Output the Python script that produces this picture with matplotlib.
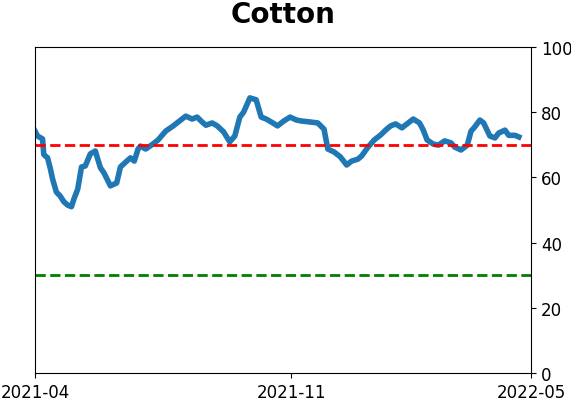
import pandas as pd
import matplotlib.pyplot as plt

TITLE = "Cotton"

dates = [
    "2021-04-01", "2021-04-03", "2021-04-07", "2021-04-08", "2021-04-11", "2021-04-13",
    "2021-04-15", "2021-04-18", "2021-04-21", "2021-04-24", "2021-04-27", "2021-04-30",
    "2021-05-02", "2021-05-05", "2021-05-08", "2021-05-11", "2021-05-15", "2021-05-19",
    "2021-05-23", "2021-05-26", "2021-05-31", "2021-06-05", "2021-06-08", "2021-06-13",
    "2021-06-16", "2021-06-19", "2021-06-22", "2021-06-24", "2021-06-28", "2021-07-03",
    "2021-07-08", "2021-07-14", "2021-07-20", "2021-07-25", "2021-07-30", "2021-08-04",
    "2021-08-08", "2021-08-12", "2021-08-15", "2021-08-20", "2021-08-24", "2021-08-29",
    "2021-09-03", "2021-09-07", "2021-09-11", "2021-09-14", "2021-09-19", "2021-09-24",
    "2021-09-28", "2021-10-02", "2021-10-06", "2021-10-11", "2021-10-16", "2021-10-21",
    "2021-10-26", "2021-10-30", "2021-11-06", "2021-11-12", "2021-11-17", "2021-11-20",
    "2021-11-25", "2021-11-30", "2021-12-05", "2021-12-09", "2021-12-14", "2021-12-17",
    "2021-12-22", "2021-12-27", "2022-01-01", "2022-01-05", "2022-01-09", "2022-01-13",
    "2022-01-18", "2022-01-23", "2022-01-27", "2022-02-01", "2022-02-04", "2022-02-07",
    "2022-02-12", "2022-02-16", "2022-02-21", "2022-02-26", "2022-03-01", "2022-03-06",
    "2022-03-11", "2022-03-14", "2022-03-17", "2022-03-21", "2022-03-24", "2022-03-29",
    "2022-04-02", "2022-04-05", "2022-04-10", "2022-04-13", "2022-04-18", "2022-04-21",
]
values = [
    74.2, 72.7, 71.8, 67.0, 66.0, 63.0,
    59.5, 55.5, 54.3, 52.5, 51.5, 51.0,
    53.4, 56.4, 63.2, 63.5, 67.2, 68.1,
    63.0, 61.3, 57.4, 58.3, 63.2, 65.0,
    66.0, 65.0, 68.7, 69.6, 68.7, 70.0,
    71.5, 74.2, 75.8, 77.3, 78.8, 77.9,
    78.5, 77.0, 76.0, 76.7, 75.8, 74.0,
    70.9, 72.7, 78.5, 80.0, 84.4, 83.8,
    78.5, 77.9, 77.0, 75.8, 77.3, 78.5,
    77.6, 77.3, 77.0, 76.7, 74.8, 68.7,
    67.8, 66.3, 63.8, 65.0, 65.6, 66.6,
    69.3, 71.5, 73.0, 74.5, 75.8, 76.4,
    75.2, 76.7, 77.9, 76.7, 74.5, 71.5,
    70.2, 69.9, 71.2, 70.6, 69.3, 68.4,
    69.9, 74.2, 75.5, 77.6, 76.7, 72.7,
    72.1, 73.6, 74.5, 72.9, 72.9, 72.4,
]

upper_level = 70
lower_level = 30

x_start = pd.Timestamp("2021-04-01")
x_end = pd.Timestamp("2022-05-01")
tick_dates = [x_start, pd.Timestamp("2021-10-22"), x_end]
tick_labels = ["2021-04", "2021-11", "2022-05"]

fig = plt.figure(figsize=(5.71, 4.02), dpi=100)
ax = fig.add_axes([0.0613, 0.0697, 0.8693, 0.8109])

ax.plot(pd.to_datetime(dates), values, color="#1f77b4", linewidth=4)
ax.axhline(upper_level, color="red", linestyle="--", linewidth=2)
ax.axhline(lower_level, color="green", linestyle="--", linewidth=2)

ax.set_xlim(x_start, x_end)
ax.set_ylim(0, 100)
ax.set_xticks(tick_dates)
ax.set_xticklabels(tick_labels, fontsize=12)
ax.yaxis.tick_right()
ax.set_yticks([0, 20, 40, 60, 80, 100])
ax.tick_params(axis="y", labelsize=12)
ax.set_title(TITLE, fontsize=20, fontweight="bold", pad=18)

fig.savefig("out.png", dpi=100)
